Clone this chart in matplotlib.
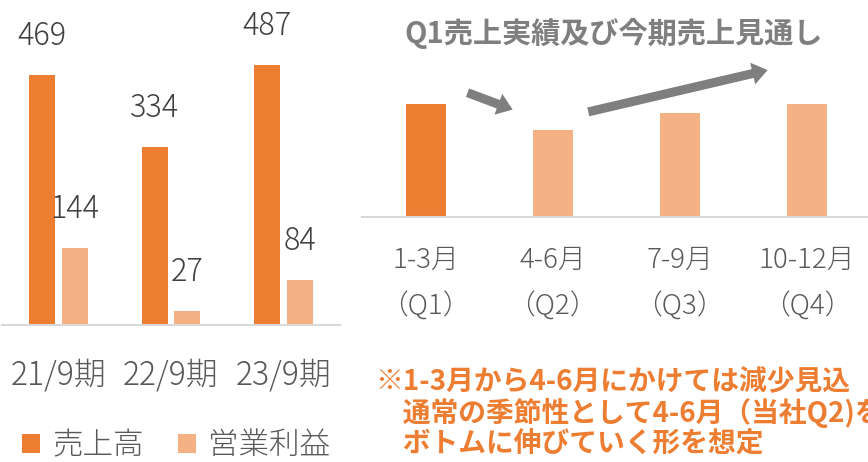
import matplotlib
matplotlib.use("Agg")
import matplotlib.pyplot as plt
from matplotlib.patches import FancyArrowPatch

plt.rcParams['font.family'] = ['Noto Sans CJK JP', 'DejaVu Sans']

# left chart: annual results
periods = ['21/9期', '22/9期', '23/9期']
sales = [469, 334, 487]
profit = [144, 27, 84]

# right chart: quarterly outlook (relative level, Q1 = 100)
quarters = ['1-3月\n（Q1）', '4-6月\n（Q2）', '7-9月\n（Q3）', '10-12月\n（Q4）']
q_sales = [100, 77, 92, 100]

title = 'Q1売上実績及び今期売上見通し'
note_lines = ['※1-3月から4-6月にかけては減少見込',
              '　通常の季節性として4-6月（当社Q2)を',
              '　ボトムに伸びていく形を想定']

dark = '#ED7D31'
light = '#F4B183'
W, H = 868, 462

fig = plt.figure(figsize=(W / 100, H / 100), dpi=100)

# ---- left: grouped bars
ax = fig.add_axes([2 / W, (H - 325) / H, 338 / W, 325 / H])
x = list(range(len(periods)))
bw, off = 0.23, 0.145
b1 = ax.bar([i - off for i in x], sales, bw, color=dark, label='売上高')
b2 = ax.bar([i + off for i in x], profit, bw, color=light, label='営業利益')
for bars in (b1, b2):
    for r in bars:
        ax.annotate(f'{r.get_height():.0f}', (r.get_x() + r.get_width() / 2, r.get_height()),
                    xytext=(0, 28), textcoords='offset points', ha='center', va='center',
                    fontsize=22, color='#404040', fontweight='light')
ax.set_xlim(-0.5, 2.5)
ax.set_ylim(0, 609)
ax.set_xticks(x)
ax.set_xticklabels(periods, fontsize=23, color='#595959', fontweight='light')
ax.tick_params(axis='x', length=0, pad=24)
ax.set_yticks([])
for s in ['top', 'left', 'right']:
    ax.spines[s].set_visible(False)
ax.spines['bottom'].set_color('#D9D9D9')
ax.spines['bottom'].set_linewidth(1.5)

fig.legend(handles=[b1, b2], loc='center left', bbox_to_anchor=(22 / W, 1 - 445 / H),
           ncol=2, frameon=False, prop={'size': 22, 'weight': 'light'},
           handlelength=0.6, handleheight=0.6,
           handletextpad=0.4, columnspacing=1.1, borderpad=0, borderaxespad=0,
           labelcolor='#595959')

# ---- right: quarterly bars
ax2 = fig.add_axes([362 / W, (H - 217) / H, 506 / W, 217 / H])
qx = list(range(len(quarters)))
colors = [dark] + [light] * (len(quarters) - 1)
ax2.bar(qx, q_sales, 0.315, color=colors)
ax2.set_xlim(-0.5, 3.48)
ax2.set_ylim(0, 192)
ax2.set_xticks(qx)
ax2.set_xticklabels(quarters, fontsize=20, color='#595959', fontweight='light')
for t in ax2.get_xticklabels():
    t.set_linespacing(1.75)
ax2.tick_params(axis='x', length=0, pad=21)
ax2.set_yticks([])
for s in ['top', 'left', 'right']:
    ax2.spines[s].set_visible(False)
ax2.spines['bottom'].set_color('#D9D9D9')
ax2.spines['bottom'].set_linewidth(1.5)

# trend arrows: drop into Q2, then growth toward Q4
arrow_style = 'simple,head_length=1.1,head_width=1.6,tail_width=0.65'
for (x0, y0), (x1, y1) in [((0.33, 110), (0.685, 95)), ((1.28, 93), (2.69, 130))]:
    ax2.add_patch(FancyArrowPatch((x0, y0), (x1, y1), arrowstyle=arrow_style,
                                  mutation_scale=10, color='#7F7F7F', lw=0,
                                  shrinkA=0, shrinkB=0, clip_on=False))

fig.text(614 / W, 1 - 33 / H, title, ha='center', va='center', fontsize=21,
         fontweight='bold', color='#7F7F7F')

for i, line in enumerate(note_lines):
    fig.text(375 / W, 1 - (390 + 31.5 * i) / H, line, ha='left', va='baseline',
             fontsize=20, fontweight='bold', color=dark)

fig.savefig('out.png', dpi=100)
